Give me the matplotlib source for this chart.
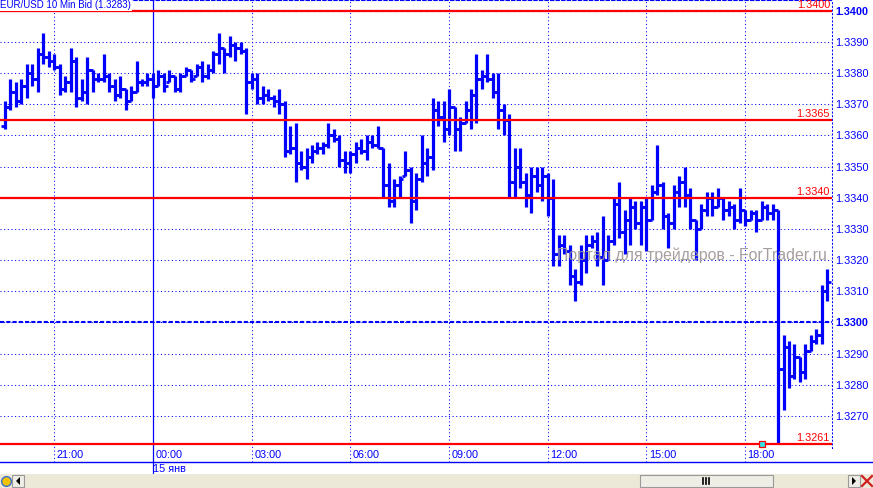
import matplotlib
matplotlib.use('Agg')
import matplotlib.pyplot as plt
import numpy as np
import pandas as pd
from matplotlib.patches import Rectangle, Polygon
from matplotlib.lines import Line2D
from matplotlib.transforms import ScaledTranslation

plt.rcParams['font.family'] = ['Liberation Sans', 'DejaVu Sans']

# EUR/USD 10 min bid, 14 Jan 19:30 .. 15 Jan 20:30
opens = [1.3363, 1.3369, 1.3374, 1.3371, 1.3376, 1.3380, 1.3378, 1.3386, 1.3385, 1.3384,
         1.3382, 1.3375, 1.3377, 1.3384, 1.3372, 1.3374, 1.3381, 1.3378, 1.3378, 1.3379,
         1.3376, 1.3373, 1.3375, 1.3371, 1.3374, 1.3377, 1.3377, 1.3378, 1.3376, 1.3379,
         1.3377, 1.3379, 1.3375, 1.3379, 1.3381, 1.3379, 1.3382, 1.3379, 1.3381, 1.3386,
         1.3388, 1.3386, 1.3389, 1.3388, 1.3387, 1.3377, 1.3378, 1.3372, 1.3373, 1.3372,
         1.3371, 1.3370, 1.3355, 1.3356, 1.3351, 1.3350, 1.3353, 1.3355, 1.3356, 1.3357,
         1.3360, 1.3359, 1.3352, 1.3351, 1.3354, 1.3356, 1.3355, 1.3358, 1.3357, 1.3356,
         1.3344, 1.3339, 1.3344, 1.3347, 1.3349, 1.3339, 1.3346, 1.3351, 1.3353, 1.3368,
         1.3366, 1.3362, 1.3369, 1.3362, 1.3364, 1.3368, 1.3373, 1.3378, 1.3379, 1.3378,
         1.3374, 1.3368, 1.3365, 1.3345, 1.3350, 1.3345, 1.3341, 1.3347, 1.3344, 1.3347,
         1.3340, 1.3322, 1.3325, 1.3323, 1.3315, 1.3313, 1.3320, 1.3325, 1.3326, 1.3321,
         1.3320, 1.3326, 1.3338, 1.3329, 1.3333, 1.3337, 1.3332, 1.3337, 1.3333, 1.3342,
         1.3344, 1.3334, 1.3332, 1.3342, 1.3345, 1.3341, 1.3333, 1.3330, 1.3336, 1.3340,
         1.3337, 1.3340, 1.3336, 1.3337, 1.3333, 1.3336, 1.3333, 1.3335, 1.3333, 1.3337,
         1.3335, 1.3336, 1.3285, 1.3292, 1.3283, 1.3289, 1.3284, 1.3291, 1.3294, 1.3296, 1.3310]
highs = [1.3371, 1.3378, 1.3377, 1.3378, 1.3383, 1.3383, 1.3388, 1.3393, 1.3387, 1.3386,
         1.3383, 1.3379, 1.3388, 1.3385, 1.3378, 1.3385, 1.3381, 1.3380, 1.3386, 1.3380,
         1.3378, 1.3379, 1.3375, 1.3376, 1.3384, 1.3378, 1.3380, 1.3380, 1.3381, 1.3380,
         1.3381, 1.3379, 1.3380, 1.3382, 1.3381, 1.3383, 1.3384, 1.3383, 1.3387, 1.3393,
         1.3388, 1.3392, 1.3390, 1.3390, 1.3388, 1.3380, 1.3380, 1.3376, 1.3375, 1.3373,
         1.3375, 1.3371, 1.3363, 1.3364, 1.3355, 1.3356, 1.3357, 1.3358, 1.3358, 1.3364,
         1.3362, 1.3360, 1.3355, 1.3355, 1.3358, 1.3359, 1.3360, 1.3360, 1.3363, 1.3356,
         1.3351, 1.3346, 1.3347, 1.3355, 1.3350, 1.3348, 1.3360, 1.3356, 1.3372, 1.3371,
         1.3371, 1.3375, 1.3369, 1.3366, 1.3371, 1.3375, 1.3386, 1.3381, 1.3386, 1.3380,
         1.3380, 1.3370, 1.3367, 1.3356, 1.3356, 1.3348, 1.3350, 1.3350, 1.3350, 1.3348,
         1.3346, 1.3328, 1.3328, 1.3325, 1.3317, 1.3325, 1.3328, 1.3328, 1.3329, 1.3334,
         1.3328, 1.3340, 1.3345, 1.3336, 1.3340, 1.3339, 1.3339, 1.3340, 1.3344, 1.3357,
         1.3345, 1.3335, 1.3344, 1.3347, 1.3350, 1.3343, 1.3333, 1.3338, 1.3342, 1.3342,
         1.3343, 1.3340, 1.3339, 1.3338, 1.3343, 1.3336, 1.3336, 1.3336, 1.3339, 1.3338,
         1.3338, 1.3336, 1.3296, 1.3294, 1.3293, 1.3289, 1.3293, 1.3296, 1.3298, 1.3312, 1.3317]
lows = [1.3362, 1.3368, 1.3369, 1.3370, 1.3372, 1.3376, 1.3374, 1.3383, 1.3382, 1.3381,
        1.3373, 1.3374, 1.3374, 1.3369, 1.3371, 1.3370, 1.3374, 1.3377, 1.3377, 1.3374,
        1.3371, 1.3372, 1.3368, 1.3371, 1.3374, 1.3376, 1.3376, 1.3372, 1.3376, 1.3374,
        1.3377, 1.3374, 1.3374, 1.3379, 1.3377, 1.3379, 1.3377, 1.3378, 1.3380, 1.3383,
        1.3380, 1.3385, 1.3384, 1.3386, 1.3367, 1.3375, 1.3370, 1.3370, 1.3371, 1.3369,
        1.3367, 1.3353, 1.3354, 1.3345, 1.3349, 1.3346, 1.3351, 1.3354, 1.3354, 1.3356,
        1.3358, 1.3350, 1.3348, 1.3348, 1.3351, 1.3354, 1.3352, 1.3356, 1.3356, 1.3340,
        1.3337, 1.3337, 1.3340, 1.3347, 1.3332, 1.3336, 1.3345, 1.3347, 1.3349, 1.3363,
        1.3358, 1.3360, 1.3355, 1.3355, 1.3364, 1.3362, 1.3364, 1.3375, 1.3377, 1.3372,
        1.3362, 1.3360, 1.3340, 1.3340, 1.3343, 1.3337, 1.3335, 1.3342, 1.3339, 1.3334,
        1.3318, 1.3318, 1.3322, 1.3312, 1.3307, 1.3312, 1.3316, 1.3324, 1.3318, 1.3312,
        1.3320, 1.3325, 1.3327, 1.3322, 1.3325, 1.3330, 1.3325, 1.3323, 1.3333, 1.3341,
        1.3330, 1.3324, 1.3330, 1.3337, 1.3337, 1.3330, 1.3320, 1.3330, 1.3334, 1.3334,
        1.3337, 1.3333, 1.3334, 1.3330, 1.3332, 1.3331, 1.3333, 1.3329, 1.3333, 1.3333,
        1.3333, 1.3261, 1.3272, 1.3279, 1.3282, 1.3281, 1.3282, 1.3291, 1.3293, 1.3293, 1.3307]
closes = [1.3369, 1.3374, 1.3371, 1.3376, 1.3380, 1.3378, 1.3386, 1.3385, 1.3384, 1.3382,
          1.3375, 1.3377, 1.3384, 1.3372, 1.3374, 1.3381, 1.3378, 1.3378, 1.3379, 1.3376,
          1.3373, 1.3375, 1.3371, 1.3374, 1.3377, 1.3377, 1.3378, 1.3376, 1.3379, 1.3376,
          1.3379, 1.3375, 1.3379, 1.3381, 1.3378, 1.3382, 1.3379, 1.3381, 1.3386, 1.3388,
          1.3386, 1.3389, 1.3388, 1.3387, 1.3377, 1.3378, 1.3372, 1.3373, 1.3372, 1.3371,
          1.3370, 1.3355, 1.3356, 1.3351, 1.3350, 1.3353, 1.3355, 1.3356, 1.3357, 1.3360,
          1.3359, 1.3352, 1.3351, 1.3354, 1.3356, 1.3355, 1.3358, 1.3357, 1.3356, 1.3344,
          1.3339, 1.3344, 1.3346, 1.3349, 1.3339, 1.3346, 1.3351, 1.3353, 1.3368, 1.3366,
          1.3362, 1.3369, 1.3362, 1.3364, 1.3368, 1.3373, 1.3378, 1.3379, 1.3378, 1.3374,
          1.3368, 1.3365, 1.3345, 1.3350, 1.3345, 1.3341, 1.3347, 1.3344, 1.3347, 1.3340,
          1.3322, 1.3325, 1.3323, 1.3315, 1.3313, 1.3320, 1.3325, 1.3326, 1.3321, 1.3320,
          1.3326, 1.3338, 1.3329, 1.3333, 1.3337, 1.3332, 1.3337, 1.3333, 1.3342, 1.3344,
          1.3334, 1.3332, 1.3342, 1.3345, 1.3341, 1.3333, 1.3330, 1.3336, 1.3340, 1.3337,
          1.3340, 1.3336, 1.3337, 1.3333, 1.3336, 1.3333, 1.3335, 1.3333, 1.3337, 1.3335,
          1.3336, 1.3285, 1.3292, 1.3283, 1.3289, 1.3284, 1.3291, 1.3294, 1.3296, 1.3310, 1.3313]

start_time = '2010-01-14 19:30'
day_start = '2010-01-15 00:00'
levels = [1.3400, 1.3365, 1.3340, 1.3261]
round_levels = [1.3400, 1.3300]
price_ticks = [1.3400, 1.3390, 1.3380, 1.3370, 1.3360, 1.3350, 1.3340, 1.3330,
               1.3320, 1.3310, 1.3300, 1.3290, 1.3280, 1.3270]
time_ticks = [-3, 0, 3, 6, 9, 12, 15, 18]
time_labels = ['21:00', '00:00', '03:00', '06:00', '09:00', '12:00', '15:00', '18:00']
day_label = '15 янв'
marker_time = 18.5
title = 'EUR/USD 10 Min Bid (1.3283)'
watermark = 'Портал для трейдеров - ForTrader.ru'

times = pd.date_range(start_time, periods=len(closes), freq='10min')
hours = ((times - pd.Timestamp(day_start)) / pd.Timedelta(hours=1)).to_numpy()

BLUE = '#0000FF'
RED = '#FF0000'
W, H = 873, 488

fig = plt.figure(figsize=(W / 100, H / 100), dpi=100)
fig.patch.set_facecolor('white')
ax = fig.add_axes([0, 40 / H, 832 / W, 448 / H])
ax.set_xlim(-4.65, 20.64)
ax.set_ylim(1.325975, 1.340343)

# grid
for v in price_ticks:
    ax.axhline(v, color=BLUE, lw=0.75, ls=(0, (1, 2.5)), zorder=1)
for t in time_ticks:
    if t == 0:
        ax.axvline(t, ymin=-27 / 448, color=BLUE, lw=0.9, zorder=1, clip_on=False)
    else:
        ax.axvline(t, ymin=-14 / 448, color=BLUE, lw=0.75, ls=(0, (1, 2.5)), zorder=1, clip_on=False)
for v in round_levels:
    ax.axhline(v, color=BLUE, lw=1.5, ls=(0, (2, 1)), zorder=1.5)

# OHLC bars
tick = 0.11
ax.vlines(hours, lows, highs, color=BLUE, lw=2.3, zorder=2)
ax.hlines(opens, hours - tick, hours, color=BLUE, lw=2.0, zorder=2)
ax.hlines(closes, hours, hours + tick, color=BLUE, lw=2.0, zorder=2)

# horizontal levels
for v in levels:
    ax.axhline(v, color=RED, lw=1.6, zorder=3)
    ax.annotate(f'{v:.4f}', xy=(1, v), xycoords=('axes fraction', 'data'),
                xytext=(-1.5, 0.8), textcoords='offset points', ha='right', va='bottom',
                color=RED, fontsize=7.8, zorder=4)
ax.plot([marker_time], [levels[-1]], marker='s', ms=4.5, mfc='#33E6E6', mec=RED,
        mew=0.9, zorder=5, clip_on=False)

# axes styling
for s in ['left', 'bottom']:
    ax.spines[s].set_visible(False)
ax.spines['top'].set_color(BLUE)
ax.spines['top'].set_linestyle((0, (3, 2)))
ax.spines['top'].set_linewidth(0.8)
ax.spines['right'].set_color(BLUE)
ax.spines['right'].set_linestyle((0, (1, 2.5)))
ax.spines['right'].set_linewidth(0.75)

ax.yaxis.tick_right()
ax.set_yticks(price_ticks, [f'{v:.4f}' for v in price_ticks])
ax.tick_params(axis='y', length=0, pad=2.5, labelsize=7.8, colors=BLUE)
for lbl in ax.get_yticklabels():
    if lbl.get_text() in [f'{v:.4f}' for v in round_levels]:
        lbl.set_fontweight('bold')

ax.set_xticks(time_ticks, time_labels)
ax.tick_params(axis='x', length=0, pad=1.5, labelsize=7.8, colors=BLUE)
for lbl in ax.get_xticklabels():
    lbl.set_ha('left')
    lbl.set_transform(lbl.get_transform() + ScaledTranslation(2.5 / 100, 0, fig.dpi_scale_trans))

ax.text(0, -21.5 / 448, day_label, transform=ax.get_xaxis_transform(), ha='left', va='center',
        color=BLUE, fontsize=7.8)
ax.text(0.5 / 832, 1.0, title, transform=ax.transAxes, ha='left', va='top', color=BLUE,
        fontsize=7, zorder=6, bbox=dict(fc='white', ec='none', pad=0.6))
ax.text(557 / 832, 1 - 255 / 448, watermark, transform=ax.transAxes, ha='left', va='center',
        color='#9E9494', fontsize=11.4, alpha=0.9, zorder=6)

# bottom strip and scrollbar chrome
fig.add_artist(Line2D([0, 1], [26 / H, 26 / H], color=BLUE, lw=1, transform=fig.transFigure))
fig.add_artist(Rectangle((0, 0), 1, 14 / H, fc='#ECE9D8', ec='none', transform=fig.transFigure))
fig.add_artist(Rectangle((640 / W, 1 / H), 133 / W, 12 / H, fc='#EEEDE6', ec='#9A9A9A', lw=0.8,
                         transform=fig.transFigure))
for gx in [703, 706, 709]:
    fig.add_artist(Line2D([gx / W, gx / W], [4 / H, 10 / H], color='black', lw=1.2,
                          transform=fig.transFigure))
for bx in [12, 848]:
    fig.add_artist(Rectangle((bx / W, 1 / H), 12 / W, 12 / H, fc='#EEEDE6', ec='#9A9A9A', lw=0.8,
                             transform=fig.transFigure))
fig.add_artist(Polygon([[16 / W, 7 / H], [20 / W, 11 / H], [20 / W, 3 / H]], closed=True,
                       fc='black', ec='none', transform=fig.transFigure))
fig.add_artist(Polygon([[856 / W, 7 / H], [852 / W, 11 / H], [852 / W, 3 / H]], closed=True,
                       fc='black', ec='none', transform=fig.transFigure))
fig.add_artist(Line2D([6 / W], [7 / H], marker='o', ms=7, mfc='#F2C200', mec='#3A6FD0', mew=1,
                      transform=fig.transFigure))
fig.add_artist(Line2D([862 / W, 872 / W], [12 / H, 2 / H], color='#D02020', lw=1.6,
                      transform=fig.transFigure))
fig.add_artist(Line2D([862 / W, 872 / W], [2 / H, 12 / H], color='#D02020', lw=1.6,
                      transform=fig.transFigure))

fig.savefig('out.png', dpi=100, facecolor='white')
